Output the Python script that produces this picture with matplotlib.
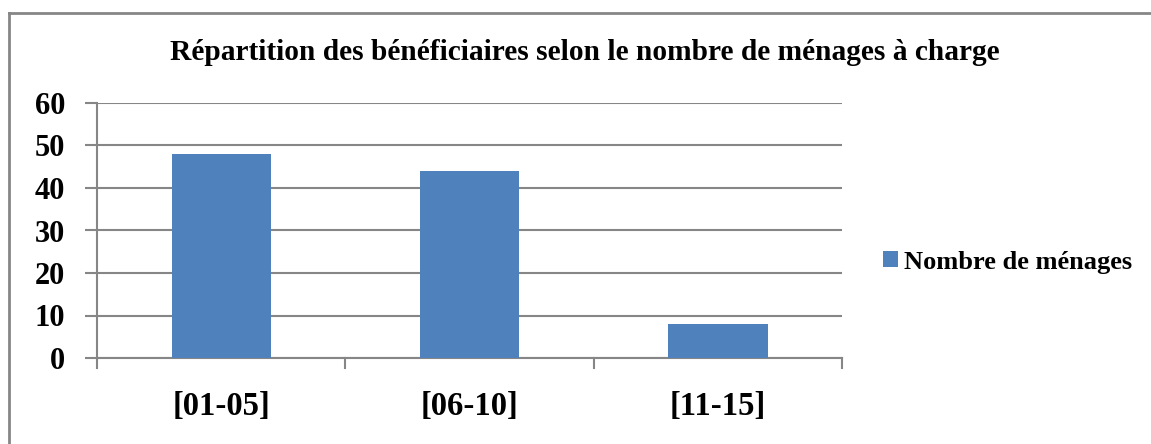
import matplotlib
matplotlib.use("Agg")
import matplotlib.pyplot as plt
from matplotlib.lines import Line2D
from matplotlib.patches import Patch

categories = ["[01-05]", "[06-10]", "[11-15]"]
values = [48, 44, 8]
series_name = "Nombre de ménages"
title = "Répartition des bénéficiaires selon le nombre de ménages à charge"
yticks = [0, 10, 20, 30, 40, 50, 60]

W, H = 1151, 444
fig = plt.figure(figsize=(W / 100, H / 100), dpi=100)
plt.rcParams['font.family'] = ['Liberation Serif', 'DejaVu Serif']

gray = "#868686"
bar_color = "#4F81BD"

# axes: left 97, right 842, top 103, bottom 358 (pixels)
ax = fig.add_axes([97 / W, 1 - 358 / H, (842 - 97) / W, (358 - 103) / H])
x = list(range(len(categories)))
ax.bar(x, values, width=0.4, color=bar_color, zorder=3)
ax.set_xlim(-0.5, len(categories) - 0.5)
ax.set_ylim(0, 60)
ax.set_yticks(yticks)
ax.set_yticklabels([str(v) for v in yticks], fontsize=22, fontweight='bold')
ax.yaxis.grid(True, color=gray, linewidth=1.5, zorder=0)
ax.set_axisbelow(True)
ax.tick_params(axis='y', length=9, width=1.5, color=gray, pad=14)
ax.set_xticks([])
for xb in [-0.5, 0.5, 1.5, 2.5]:
    ax.plot([xb, xb], [0, -2.4], color=gray, lw=1.5, clip_on=False, zorder=4)
for i, c in enumerate(categories):
    ax.text(i, -11.5, c, ha='center', va='center', fontsize=23.5, fontweight='bold')
for s in ['top', 'right']:
    ax.spines[s].set_visible(False)
for s in ['left', 'bottom']:
    ax.spines[s].set_color(gray)
    ax.spines[s].set_linewidth(1.5)

fig.text(585 / W, 1 - 52 / H, title, ha='center', va='center', fontsize=21.2, fontweight='bold')

handle = Patch(facecolor=bar_color, edgecolor='none')
fig.legend([handle], [series_name], loc='center left', bbox_to_anchor=(883 / W, 1 - 262 / H),
           frameon=False, prop={'size': 19, 'weight': 'bold'}, handlelength=0.55, handleheight=0.55,
           handletextpad=0.23, borderaxespad=0, borderpad=0)

# outer border (top and left visible)
fig.add_artist(Line2D([8.5 / W, 1], [1 - 13.5 / H, 1 - 13.5 / H], color=gray, lw=2))
fig.add_artist(Line2D([8.5 / W, 8.5 / W], [0, 1 - 13.5 / H], color=gray, lw=2))

fig.savefig("out.png", dpi=100)
